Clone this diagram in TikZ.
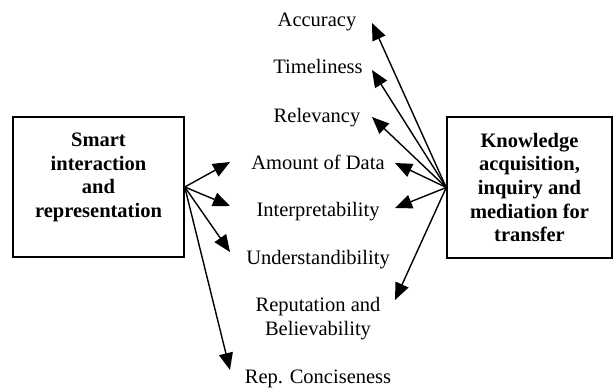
\documentclass[tikz,border=0pt]{standalone}
\usepackage{fontspec}
\setmainfont{Liberation Serif}
\usetikzlibrary{arrows.meta}
\begin{document}
\begin{tikzpicture}[x=1pt,y=-1pt,
  font=\fontsize{20.5}{23.6}\selectfont,
  box/.style={draw, line width=1.5pt, inner sep=0pt},
  boxtext/.style={font=\fontsize{20.5}{23.6}\selectfont\bfseries, align=center, inner sep=0pt},
  attr/.style={anchor=base, inner sep=0pt, align=center},
  link/.style={line width=1.4pt, -{Triangle[length=17pt,width=14pt]}}]
\useasboundingbox (0,0) rectangle (613,389);

% the two boxes
\node[box, minimum width=171pt, minimum height=140pt] (L) at (98.5,187) {};
\node[boxtext, anchor=north] (Ltext) at (98.5,133) {Smart\\interaction\\and\\representation};
\node[box, minimum width=165pt, minimum height=141pt, boxtext] (R) at (529.5,187.5)
  {Knowledge\\acquisition,\\inquiry and\\mediation for\\transfer};

% quality attributes (base = baseline of the last line)
\node[attr] (acc) at (317,26) {Accuracy};
\node[attr] (tim) at (318,73) {Timeliness};
\node[attr] (rel) at (317,122) {Relevancy};
\node[attr] (amt) at (318,169) {Amount of Data};
\node[attr] (int) at (318,216) {Interpretability};
\node[attr] (und) at (318,264) {Understandibility};
\node[attr] (rep) at (318,335.5) {Reputation and\\Believability};
\node[attr] (con) at (318,383) {Rep. Conciseness};

% arrow tips beside the attributes
\coordinate (tLamt) at (230,162);
\coordinate (tLint) at (230,206);
\coordinate (tLund) at (230,252);
\coordinate (tLcon) at (230,370);
\coordinate (tRacc) at (372,23);
\coordinate (tRtim) at (372,70);
\coordinate (tRrel) at (372,117);
\coordinate (tRamt) at (395,163);
\coordinate (tRint) at (395,208);
\coordinate (tRrep) at (395,300);

% connectors
\foreach \t in {tLamt,tLint,tLund,tLcon}
  \draw[link] (L.east) -- (\t);
\foreach \t in {tRacc,tRtim,tRrel,tRamt,tRint,tRrep}
  \draw[link] (R.west) -- (\t);
\end{tikzpicture}
\end{document}
